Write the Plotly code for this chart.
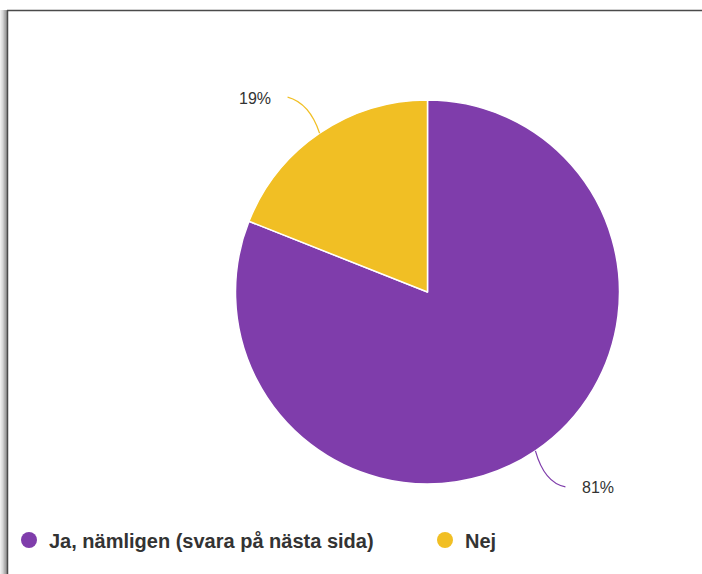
import math
import plotly.graph_objects as go

labels = ["Ja, nämligen (svara på nästa sida)", "Nej"]
values = [81, 19]
colors = ["#7f3dab", "#f1bf24"]

W, H = 702, 574
cx, cy, R = 427.5, 292.0, 192.0

def px(x):
    return x / W

def py(y):
    return 1 - y / H

fig = go.Figure()
fig.add_trace(go.Pie(
    labels=labels, values=values, sort=False, direction="clockwise", rotation=0,
    marker=dict(colors=colors, line=dict(color="white", width=1.5)),
    textinfo="none", hoverinfo="label+percent", showlegend=False,
    domain=dict(x=[px(cx - R), px(cx + R)], y=[py(cy + R), py(cy - R)]),
))

legend_names = ["legend", "legend2"]
for lab, col, lg in zip(labels, colors, legend_names):
    fig.add_trace(go.Scatter(x=[None], y=[None], mode="markers", name=lab, legend=lg,
                             marker=dict(symbol="circle", size=17, color=col)))

shapes = []
annotations = []
total = sum(values)
start = 90.0
for i, v in enumerate(values):
    frac = v / total
    mid = start - frac * 360 / 2
    start -= frac * 360
    a = math.radians(mid)
    ex, ey = cx + R * math.cos(a), cy - R * math.sin(a)
    right = math.cos(a) >= 0
    lx = ex + (30 if right else -32)
    ly = ey + (36 if math.sin(a) < 0 else -36)
    qx = ex + (9 if right else -10)
    qy = ly + (-4 if math.sin(a) < 0 else 6)
    shapes.append(dict(type="path", xref="paper", yref="paper",
                       path=f"M {px(ex)} {py(ey)} Q {px(qx)} {py(qy)} {px(lx)} {py(ly)}",
                       line=dict(color=colors[i], width=1.2)))
    annotations.append(dict(x=px(lx + (15 if right else -15)), y=py(ly + 1), xref="paper", yref="paper",
                            text=f"{round(frac*100)}%", showarrow=False,
                            xanchor="left" if right else "right", yanchor="middle",
                            font=dict(family="Liberation Sans, Arial", size=16, color="#333333")))

# frame and shadow
for k, g in enumerate(["#eeeeee", "#dddddd", "#c8c8c8", "#b0b0b0", "#979797"]):
    shapes.append(dict(type="rect", xref="paper", yref="paper", layer="below",
                       x0=px(k * 1.4), x1=px(7), y0=0, y1=py(10), fillcolor=g, line=dict(width=0)))
shapes.append(dict(type="line", xref="paper", yref="paper", x0=px(7), x1=1, y0=py(10.5), y1=py(10.5),
                   line=dict(color="#4a4a4a", width=1.5)))
shapes.append(dict(type="line", xref="paper", yref="paper", x0=px(7.5), x1=px(7.5), y0=0, y1=py(10.5),
                   line=dict(color="#4a4a4a", width=1.5)))

legend_font = dict(family="Liberation Sans, Arial", size=20, color="#333333", weight="bold")
fig.update_layout(
    width=W, height=H, margin=dict(l=0, r=0, t=0, b=0),
    paper_bgcolor="white", plot_bgcolor="white",
    xaxis=dict(visible=False), yaxis=dict(visible=False),
    shapes=shapes, annotations=annotations,
    legend=dict(orientation="h", x=px(9), y=py(540), xanchor="left", yanchor="middle",
                font=legend_font, itemsizing="trace", bgcolor="rgba(0,0,0,0)"),
    legend2=dict(orientation="h", x=px(425), y=py(540), xanchor="left", yanchor="middle",
                 font=legend_font, itemsizing="trace", bgcolor="rgba(0,0,0,0)"),
)

fig.write_html("out.html", config={"displayModeBar": False},
               post_script="document.body.style.margin='0';")
